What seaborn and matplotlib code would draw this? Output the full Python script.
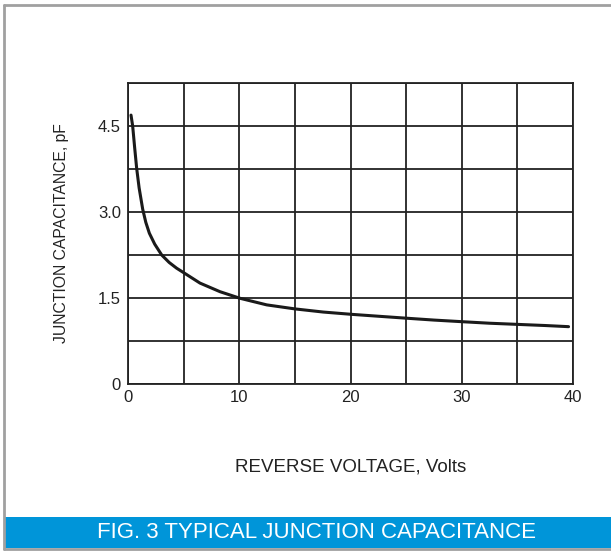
import matplotlib
matplotlib.use('Agg')
import matplotlib.pyplot as plt
import numpy as np
import pandas as pd
import seaborn as sns
from matplotlib.lines import Line2D
from matplotlib.patches import Rectangle

# values
reverse_voltage = [0.27, 0.42, 0.6, 0.78, 1.0, 1.32, 1.6, 1.92, 2.4, 3.03, 3.7, 4.37, 5.1, 6.47,
                   8.27, 10.07, 12.47, 15.0, 17.55, 20.1, 22.65, 25.0, 27.5, 30.0, 32.5, 35.0,
                   37.5, 39.6]
capacitance_pf = [4.69, 4.50, 4.12, 3.76, 3.42, 3.05, 2.82, 2.63, 2.44, 2.25, 2.12, 2.02, 1.93, 1.76,
                  1.61, 1.495, 1.38, 1.31, 1.255, 1.215, 1.18, 1.148, 1.115, 1.087, 1.06, 1.04,
                  1.02, 1.00]
x_ticks = [0, 10, 20, 30, 40]
y_ticks = [0, 1.5, 3.0, 4.5]
y_tick_labels = ['0', '1.5', '3.0', '4.5']

sns.set_style('white')
plt.rcParams['font.family'] = ['Liberation Sans', 'DejaVu Sans']

df = pd.DataFrame({'v': reverse_voltage, 'c': capacitance_pf})

fig = plt.figure(figsize=(6.11, 5.51), dpi=100)
ax = fig.add_axes([128 / 611, 167 / 551, 445 / 611, 301 / 551])

sns.lineplot(data=df, x='v', y='c', ax=ax, color='#1a1a1a', linewidth=2.2)

ax.set_xlim(0, 40)
ax.set_ylim(0, 5.25)
ax.set_xticks(np.arange(0, 41, 5), minor=True)
ax.set_yticks(np.arange(0, 5.26, 0.75), minor=True)
ax.set_xticks(x_ticks)
ax.set_yticks(y_ticks)
ax.set_yticklabels(y_tick_labels)
ax.grid(which='both', color='#222222', linewidth=1.3)
ax.set_axisbelow(True)
ax.tick_params(which='both', length=0, labelsize=12, colors='#222222')
ax.tick_params(axis='x', pad=4)
ax.tick_params(axis='y', pad=5)
for s in ax.spines.values():
    s.set_color('#222222')
    s.set_linewidth(1.3)

ax.set_xlabel('REVERSE VOLTAGE, Volts', fontsize=13.5, color='#222222', labelpad=39)
ax.set_ylabel('JUNCTION CAPACITANCE, pF', fontsize=11.3, color='#222222', labelpad=21)

# gray frame
fig.add_artist(Line2D([4 / 611, 1], [546 / 551, 546 / 551], color='#a0a0a0', linewidth=2))
fig.add_artist(Line2D([4 / 611, 4 / 611], [2 / 551, 546 / 551], color='#a0a0a0', linewidth=2))
fig.add_artist(Line2D([4 / 611, 1], [2 / 551, 2 / 551], color='#a0a0a0', linewidth=2))

# blue banner
fig.add_artist(Rectangle((5 / 611, 3 / 551), 606 / 611, 31 / 551, transform=fig.transFigure,
                         facecolor='#0095d9', edgecolor='none'))
fig.text(316 / 611, 18 / 551, 'FIG. 3 TYPICAL JUNCTION CAPACITANCE', color='white',
         fontsize=16, ha='center', va='center')

fig.savefig('out.png', dpi=100)
